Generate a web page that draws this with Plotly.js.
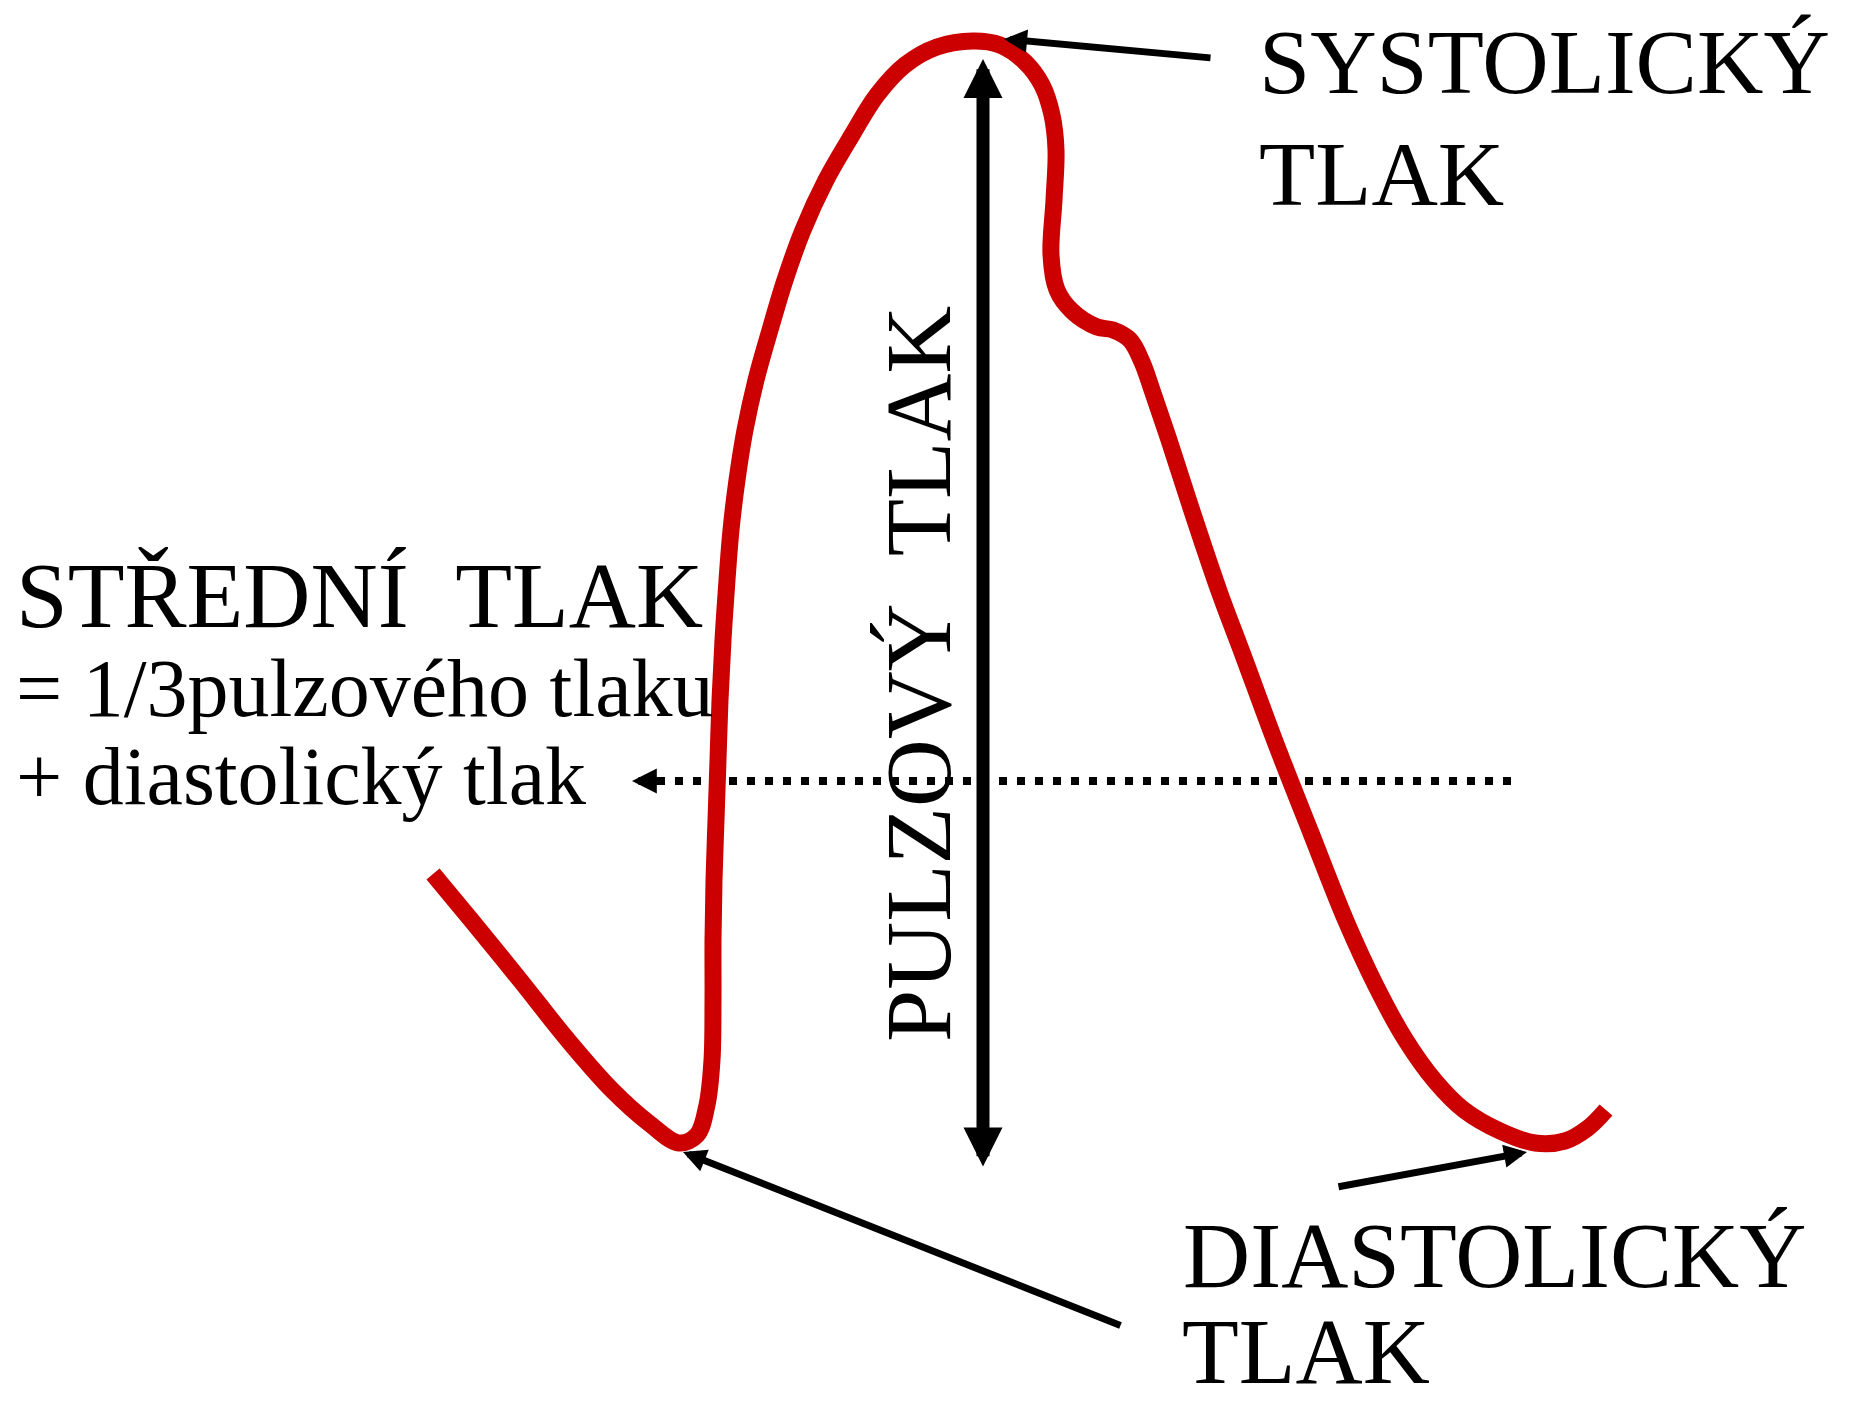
<!DOCTYPE html>
<html>
<head>
<meta charset="utf-8">
<script src="https://cdn.plot.ly/plotly-3.0.1.min.js"></script>
<style>html,body{margin:0;padding:0;background:#fff;}#chart{width:1852px;height:1404px;}</style>
</head>
<body>
<div id="chart"></div>
<script>
// Pressure wave curve (diagram units = page pixels, y downward)
const waveX = [433,472,520,567,612,650,679,697,707,712,713,713,714,716,718,720,723,727,731,737,745,756,770,785,803,826,852,877,905,937,973,1000,1025,1042,1052,1056,1054,1051,1057,1072,1097,1113,1130,1142,1152,1168,1191,1219,1243,1276,1311,1346,1376,1405,1435,1464,1500,1535,1565,1588,1606];
const waveY = [874,921,980,1039,1090,1124,1143,1135,1105,1060,1000,940,880,820,760,700,640,580,530,480,430,380,330,280,230,180,135,95,65,47,41,45,62,85,115,150,200,255,290,311,327,330,340,362,390,437,508,591,655,744,833,921,986,1039,1081,1110,1131,1143,1141,1128,1110];

// Mean pressure dotted line
const meanLineX = [657, 1512];
const meanLineY = [781, 781];

// Arrows: [tipX, tipY, tailX, tailY]
const pulseArrow = [983, 59, 983, 1168];
const systolicArrow = [1004, 39, 1212, 58];
const diastolicArrowLeft = [683, 1152, 1122, 1326];
const diastolicArrowRight = [1527, 1152, 1337, 1187];
const meanArrow = [632, 781, 662, 781];

// Labels: [text, x, y]
const labelSystolic = ['SYSTOLICKÝ', 1257, 62];
const labelSystolic2 = ['TLAK', 1257, 174];
const labelDiastolic = ['DIASTOLICKÝ', 1181, 1255];
const labelDiastolic2 = ['TLAK', 1181, 1404];
const labelMean = ['STŘEDNÍ\u00a0\u00a0TLAK', 14, 595];
const labelMean2 = ['= 1/3pulzového tlaku', 14, 688];
const labelMean3 = ['+ diastolický tlak', 14, 776];
const labelPulse = ['PULZOVÝ\u00a0\u00a0TLAK', 918, 674];

const FONT = 'Liberation Serif, Times New Roman, serif';

const traces = [
  {x: meanLineX, y: meanLineY, mode: 'lines', type: 'scatter',
   line: {color: '#000', width: 8, dash: '8px,10px'}, hoverinfo: 'skip'},
  {x: waveX, y: waveY, mode: 'lines', type: 'scatter',
   line: {color: '#CC0000', width: 17, shape: 'spline', smoothing: 1}, hoverinfo: 'skip'}
];

function arrow(a, w, size, extra) {
  return Object.assign({
    x: a[0], y: a[1], ax: a[2], ay: a[3], xref: 'x', yref: 'y', axref: 'x', ayref: 'y',
    text: '', showarrow: true, arrowhead: 2, arrowsize: size, arrowwidth: w,
    arrowcolor: '#000', standoff: 0, startstandoff: 0
  }, extra || {});
}
function label(l, size, extra) {
  return Object.assign({
    text: l[0], x: l[1], y: l[2], xref: 'x', yref: 'y', showarrow: false,
    xanchor: 'left', yanchor: 'middle', font: {family: FONT, size: size, color: '#000'}
  }, extra || {});
}

const annotations = [
  arrow(pulseArrow, 13, 0.6, {arrowside: 'end+start', startarrowhead: 2, startarrowsize: 0.6}),
  arrow(systolicArrow, 7, 0.66),
  arrow(diastolicArrowLeft, 7, 0.66),
  arrow(diastolicArrowRight, 7, 0.66),
  arrow(meanArrow, 8, 0.62),
  label(labelSystolic, 92),
  label(labelSystolic2, 92),
  label(labelDiastolic, 93),
  label(labelDiastolic2, 93, {yanchor: 'bottom', borderpad: 0}),
  label(labelMean, 93),
  label(labelMean2, 82),
  label(labelMean3, 82),
  label(labelPulse, 94, {xanchor: 'center', yanchor: 'middle', textangle: -90})
];

const layout = {
  width: 1852, height: 1404,
  margin: {l: 0, r: 0, t: 0, b: 0, pad: 0},
  paper_bgcolor: '#fff', plot_bgcolor: '#fff',
  showlegend: false,
  xaxis: {range: [0, 1852], visible: false, fixedrange: true},
  yaxis: {range: [1404, 0], visible: false, fixedrange: true},
  annotations: annotations
};

Plotly.newPlot('chart', traces, layout, {staticPlot: true, displayModeBar: false});
</script>
</body>
</html>
